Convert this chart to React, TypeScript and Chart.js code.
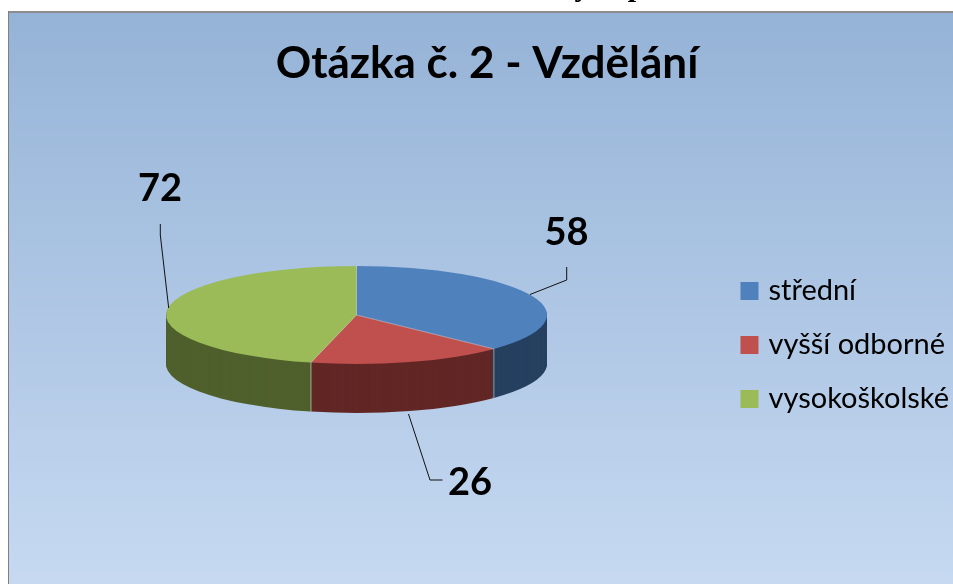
import React, { useEffect, useRef } from "react";
import { Chart, registerables } from "chart.js";

Chart.register(...registerables);

const titleText = "Otázka č. 2 - Vzdělání";
const categories = ["střední", "vyšší odborné", "vysokoškolské"];
const values = [58, 26, 72];
const topColors = ["#4F81BD", "#C0504D", "#9BBB59"];
const sideColors = ["#264060", "#622725", "#4F602C"];

const FONT = "Lato, Carlito, sans-serif";
const WIDTH = 953;
const HEIGHT = 584;
const FRAME = { left: 8, top: 12 };
const PIE = { cx: 356.5, cy: 315, rx: 190.5, ry: 49, depth: 49 };
const LABELS = [
  { x: 566.5, y: 232.5, path: [[566.7, 267], [566.7, 280], [530, 294.5]] },
  { x: 470, y: 482.5, path: [[442.5, 480], [430, 480], [408.5, 414]] },
  { x: 160, y: 188.5, path: [[160.3, 224], [160.3, 235], [168.7, 308]] },
];

const pie3d = {
  id: "pie3d",
  beforeDraw(chart: any) {
    const { ctx } = chart;
    ctx.save();
    ctx.fillStyle = "#ffffff";
    ctx.fillRect(0, 0, WIDTH, HEIGHT);
    const g = ctx.createLinearGradient(0, FRAME.top, 0, HEIGHT);
    g.addColorStop(0, "#95B3D7");
    g.addColorStop(1, "#C6D9F1");
    ctx.fillStyle = g;
    ctx.fillRect(FRAME.left, FRAME.top, WIDTH - FRAME.left, HEIGHT - FRAME.top);
    ctx.fillStyle = "#8c8c8c";
    ctx.fillRect(FRAME.left, FRAME.top - 1, WIDTH - FRAME.left, 2);
    ctx.fillStyle = "#808080";
    ctx.fillRect(FRAME.left, FRAME.top - 1, 1, HEIGHT);
    ctx.fillStyle = "#000000";
    ctx.font = "bold 30px 'Liberation Serif', serif";
    ctx.textAlign = "center";
    ctx.textBaseline = "alphabetic";
    ctx.fillText("y", 582, -4);
    ctx.fillText("p", 636, -4);
    ctx.restore();
  },
  beforeDatasetDraw() {
    return false;
  },
  afterDatasetsDraw(chart: any) {
    const { ctx } = chart;
    const els = chart.getDatasetMeta(0).data;
    const k = PIE.ry / PIE.rx;
    const place = (el: any, dy: number) => {
      ctx.setTransform(1, 0, 0, k, PIE.cx - el.x, PIE.cy + dy - el.y * k);
    };
    ctx.save();
    for (let d = PIE.depth; d > 0; d--) {
      els.forEach((el: any, i: number) => {
        const saved = el.options;
        el.options = { ...saved, backgroundColor: sideColors[i], borderWidth: 0 };
        place(el, d);
        el.draw(ctx);
        el.options = saved;
      });
    }
    els.forEach((el: any) => {
      place(el, 0);
      el.draw(ctx);
    });
    ctx.setTransform(1, 0, 0, 1, 0, 0);
    els.forEach((el: any) => {
      const a = el.startAngle;
      const x = PIE.cx + PIE.rx * Math.cos(a);
      const y = PIE.cy + PIE.ry * Math.sin(a);
      ctx.lineWidth = 1;
      ctx.strokeStyle = "rgba(255,255,255,0.4)";
      ctx.beginPath();
      ctx.moveTo(PIE.cx, PIE.cy);
      ctx.lineTo(x, y);
      ctx.stroke();
      if (Math.sin(a) > 0) {
        ctx.strokeStyle = "rgba(210,210,210,0.6)";
        ctx.beginPath();
        ctx.moveTo(x, y);
        ctx.lineTo(x, y + PIE.depth);
        ctx.stroke();
      }
    });
    ctx.strokeStyle = "#111111";
    ctx.lineWidth = 1;
    ctx.fillStyle = "#000000";
    ctx.font = `bold 38px ${FONT}`;
    ctx.textAlign = "center";
    ctx.textBaseline = "middle";
    LABELS.forEach((l, i) => {
      ctx.fillText(String(values[i]), l.x, l.y);
      ctx.beginPath();
      l.path.forEach(([x, y], j) => (j ? ctx.lineTo(x, y) : ctx.moveTo(x, y)));
      ctx.stroke();
    });
    ctx.restore();
  },
};

export default function App() {
  const ref = useRef<HTMLCanvasElement | null>(null);
  useEffect(() => {
    const chart = new Chart(ref.current as HTMLCanvasElement, {
      type: "pie",
      data: {
        labels: categories,
        datasets: [
          {
            data: values,
            backgroundColor: topColors,
            borderWidth: 0,
            radius: PIE.rx,
          } as any,
        ],
      },
      plugins: [pie3d],
      options: {
        responsive: false,
        animation: false,
        layout: { padding: { left: 15, right: -6, top: 0, bottom: -106 } },
        plugins: {
          tooltip: { enabled: false },
          title: {
            display: true,
            text: titleText,
            color: "#000000",
            font: { family: FONT, size: 44, weight: "bold" },
            padding: { top: 37, bottom: 15 },
          },
          legend: {
            position: "right",
            labels: {
              usePointStyle: true,
              pointStyle: "rect",
              boxWidth: 9,
              boxHeight: 18,
              padding: 25,
              color: "#000000",
              font: { family: FONT, size: 29 },
            },
          },
        },
      } as any,
    });
    return () => chart.destroy();
  }, []);
  return (
    <div style={{ position: "fixed", left: 0, top: 0, width: WIDTH, height: HEIGHT }}>
      <canvas ref={ref} width={WIDTH} height={HEIGHT} style={{ display: "block" }} />
    </div>
  );
}
